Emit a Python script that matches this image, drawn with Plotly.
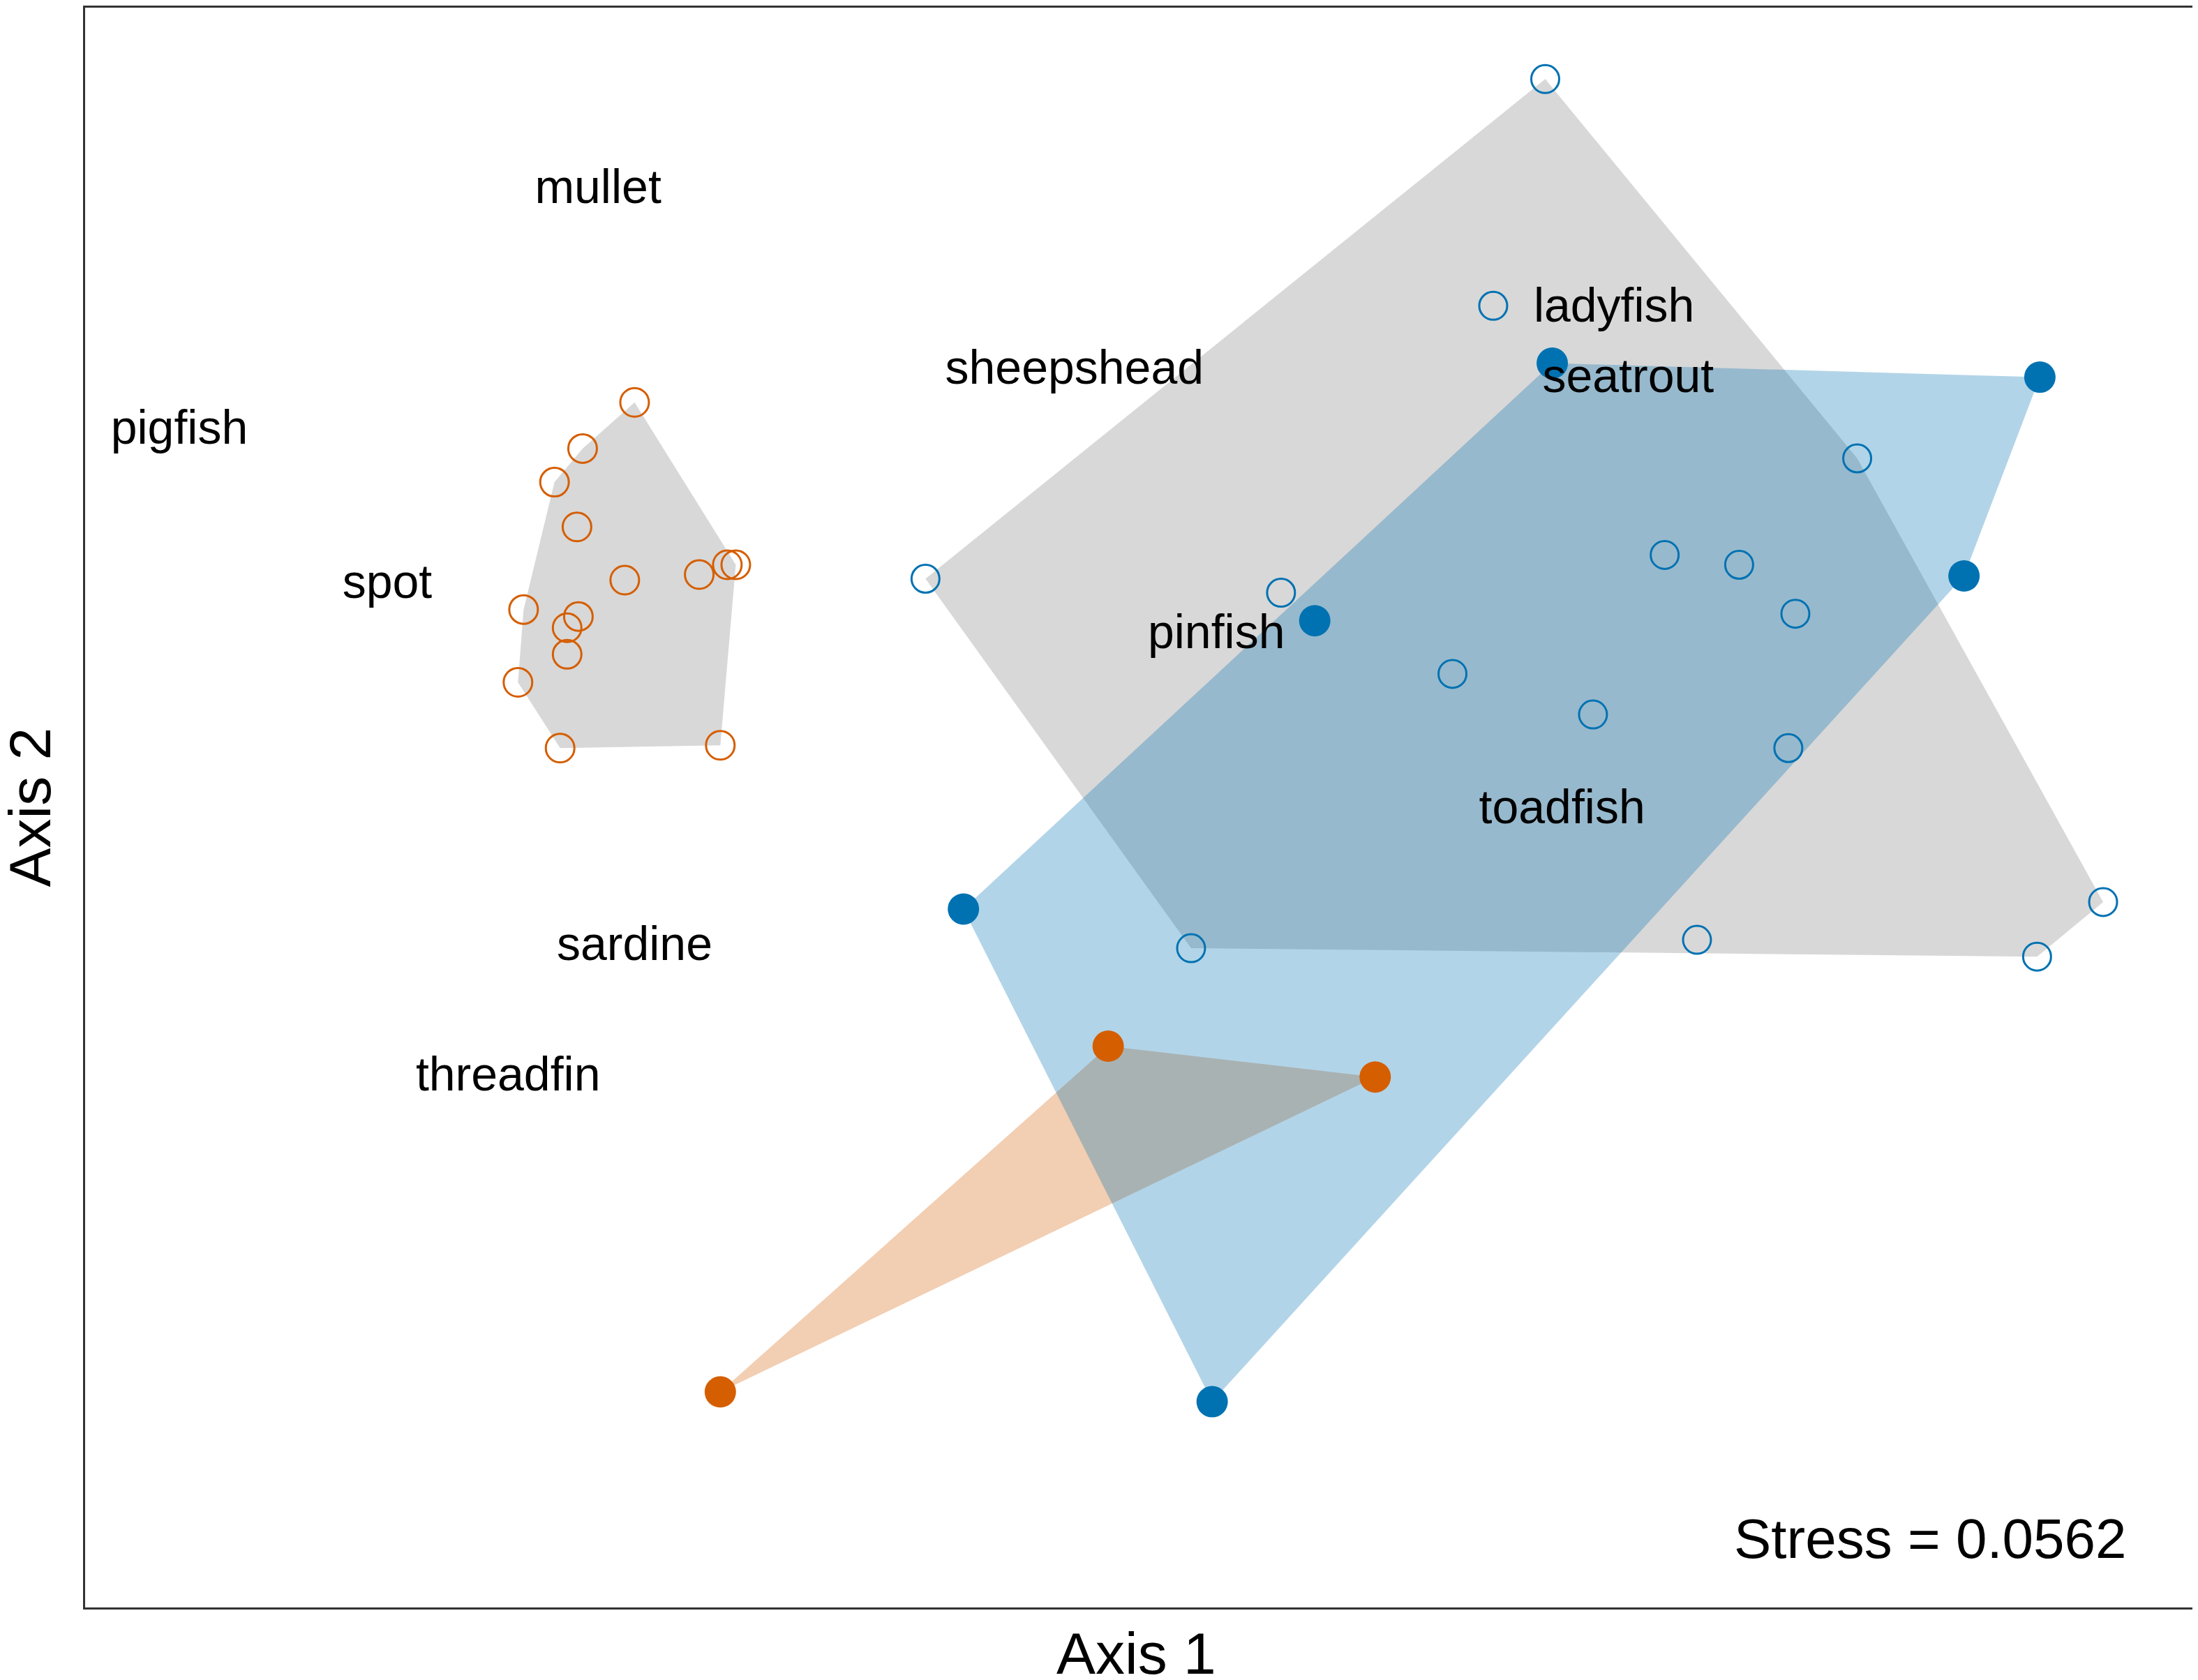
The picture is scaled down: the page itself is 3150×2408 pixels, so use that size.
import plotly.graph_objects as go

# NMDS site scores
# open orange (gray hull, left cluster)
oo_x = [-0.724, -0.798, -0.838, -0.806, -0.738, -0.632, -0.592, -0.580,
        -0.882, -0.804, -0.820, -0.820, -0.890, -0.830, -0.602]
oo_y = [0.579, 0.513, 0.465, 0.401, 0.325, 0.333, 0.347, 0.347,
        0.283, 0.273, 0.257, 0.219, 0.179, 0.085, 0.089]

# open blue (gray hull, right)
bo_x = [0.572, 0.498, 1.016, 0.742, 0.848, 0.196, 0.928, -0.310,
        0.440, 0.640, 0.918, 1.366, 0.788, 0.068, 1.272]
bo_y = [1.041, 0.717, 0.499, 0.361, 0.347, 0.307, 0.277, 0.327,
        0.191, 0.133, 0.085, -0.135, -0.189, -0.201, -0.213]

# filled blue
bf_x = [0.582, 1.276, 1.168, 0.244, -0.256, 0.098]
bf_y = [0.635, 0.615, 0.331, 0.267, -0.145, -0.849]

# filled orange
of_x = [-0.050, 0.330, -0.602]
of_y = [-0.341, -0.385, -0.835]

# species scores
species = ['mullet', 'pigfish', 'spot', 'sheepshead', 'ladyfish',
           'seatrout', 'pinfish', 'toadfish', 'sardine', 'threadfin']
sp_x = [-0.776, -1.372, -1.076, -0.098, 0.670, 0.690, 0.104, 0.596, -0.724, -0.904]
sp_y = [0.881, 0.537, 0.317, 0.623, 0.711, 0.611, 0.245, -0.005, -0.201, -0.387]

stress = 0.0562

BLUE = '#0072B2'
ORANGE = '#D55E00'
FONT = 'Liberation Sans, Arial, sans-serif'


def hull(xs, ys):
    # monotone chain convex hull
    pts = sorted(set(zip(xs, ys)))
    if len(pts) < 3:
        return pts

    def cross(o, a, b):
        return (a[0]-o[0])*(b[1]-o[1]) - (a[1]-o[1])*(b[0]-o[0])
    lower = []
    for p in pts:
        while len(lower) >= 2 and cross(lower[-2], lower[-1], p) <= 0:
            lower.pop()
        lower.append(p)
    upper = []
    for p in reversed(pts):
        while len(upper) >= 2 and cross(upper[-2], upper[-1], p) <= 0:
            upper.pop()
        upper.append(p)
    return lower[:-1] + upper[:-1]


def hull_trace(xs, ys, color):
    h = hull(xs, ys)
    hx = [p[0] for p in h] + [h[0][0]]
    hy = [p[1] for p in h] + [h[0][1]]
    return go.Scatter(x=hx, y=hy, mode='lines', fill='toself', fillcolor=color,
                      line=dict(width=0), hoverinfo='skip', showlegend=False)


fig = go.Figure()
fig.add_trace(hull_trace(oo_x, oo_y, 'rgba(127,127,127,0.3)'))
fig.add_trace(hull_trace(bo_x, bo_y, 'rgba(127,127,127,0.3)'))
fig.add_trace(hull_trace(of_x, of_y, 'rgba(213,94,0,0.3)'))
fig.add_trace(hull_trace(bf_x, bf_y, 'rgba(0,114,178,0.3)'))

fig.add_trace(go.Scatter(x=oo_x, y=oo_y, mode='markers', showlegend=False,
                         marker=dict(symbol='circle-open', size=41, color=ORANGE,
                                     line=dict(width=3, color=ORANGE))))
fig.add_trace(go.Scatter(x=bo_x, y=bo_y, mode='markers', showlegend=False,
                         marker=dict(symbol='circle-open', size=40, color=BLUE,
                                     line=dict(width=3, color=BLUE))))
fig.add_trace(go.Scatter(x=bf_x, y=bf_y, mode='markers', showlegend=False,
                         marker=dict(symbol='circle', size=45, color=BLUE)))
fig.add_trace(go.Scatter(x=of_x, y=of_y, mode='markers', showlegend=False,
                         marker=dict(symbol='circle', size=45, color=ORANGE)))

fig.add_trace(go.Scatter(x=sp_x, y=sp_y, mode='text', text=species,
                         textposition='middle center', showlegend=False,
                         textfont=dict(family=FONT, size=68, color='black')))

fig.add_annotation(x=1.402, y=-1.045, xref='x', yref='y', text='Stress = %s' % stress,
                   showarrow=False, xanchor='right', yanchor='middle',
                   font=dict(family=FONT, size=80, color='black'))
fig.add_annotation(x=0.5, y=0, xref='paper', yref='paper', text='Axis 1',
                   showarrow=False, xanchor='center', yanchor='middle',
                   xshift=-10, yshift=-66,
                   font=dict(family=FONT, size=84, color='black'))
fig.add_annotation(x=0, y=0.5, xref='paper', yref='paper', text='Axis 2',
                   showarrow=False, xanchor='center', yanchor='middle', xshift=-80,
                   textangle=-90, font=dict(family=FONT, size=84, color='black'))

ax = dict(showgrid=False, zeroline=False, showticklabels=False, ticks='',
          showline=True, mirror=True, linecolor='#333333', linewidth=3)
fig.update_xaxes(range=[-1.506, 1.506], **ax)
fig.update_yaxes(range=[-1.143, 1.143], **ax)
fig.update_layout(width=3150, height=2408, plot_bgcolor='white', paper_bgcolor='white',
                  margin=dict(l=114, r=0, t=0, b=112), font=dict(family=FONT))

fig.write_html("out.html")
